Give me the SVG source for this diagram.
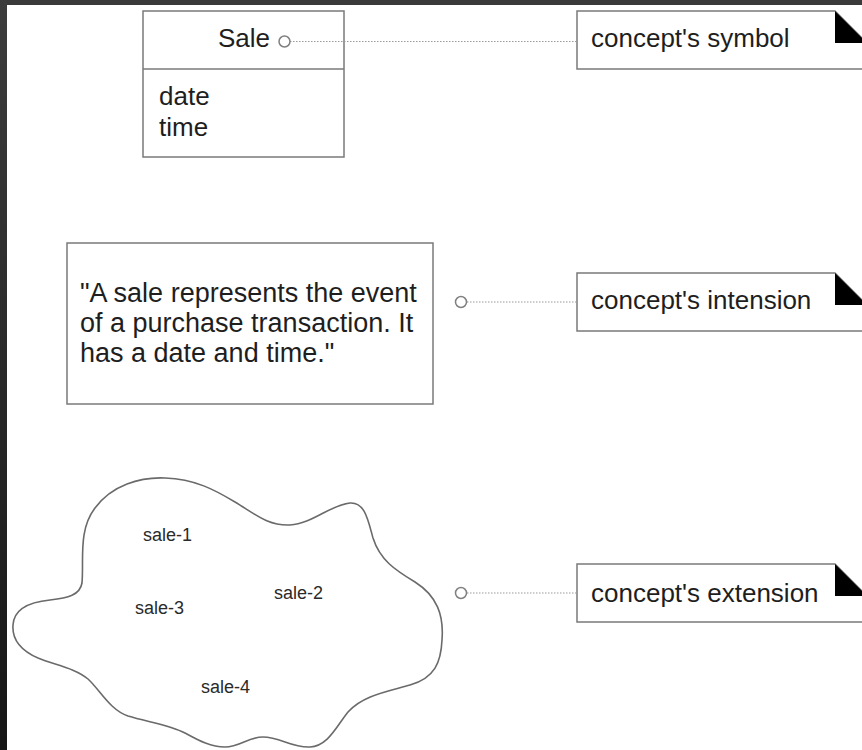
<svg xmlns="http://www.w3.org/2000/svg" width="862" height="750" viewBox="0 0 862 750">
  <defs>
    <linearGradient id="edge" x1="0" y1="0" x2="0" y2="1">
      <stop offset="0" stop-color="#3c3c3c"/>
      <stop offset="1" stop-color="#161616"/>
    </linearGradient>
  </defs>
  <style>
    .box { fill: #ffffff; stroke: #7a7a7a; stroke-width: 1.5; }
    .txt { font-family: "Liberation Sans", Arial, sans-serif; font-size: 26px; fill: #1e1e1e; }
    .quote { font-size: 27px; }
    .small { font-family: "Liberation Sans", Arial, sans-serif; font-size: 18px; fill: #2a2a2a; }
    .dot { stroke: #9a9a9a; stroke-width: 1.2; stroke-dasharray: 1.5 1.5; fill: none; }
    .port { fill: #ffffff; stroke: #808080; stroke-width: 1.5; }
    .fold { fill: #000000; }
    .cloud { fill: #ffffff; stroke: #6a6a6a; stroke-width: 1.6; }
  </style>
  <rect x="0" y="0" width="862" height="750" fill="#ffffff"/>
  <rect x="0" y="0" width="862" height="5" fill="#3a3a3a"/>
  <rect x="0" y="0" width="7" height="750" fill="url(#edge)"/>

  <g id="sale-class">
    <rect class="box" x="143" y="11" width="201" height="146"/>
    <line x1="143" y1="69" x2="344" y2="69" stroke="#7a7a7a" stroke-width="1.5"/>
    <text class="txt" x="218" y="47">Sale</text>
    <text class="txt" x="159" y="105">date</text>
    <text class="txt" x="159" y="136">time</text>
  </g>

  <g id="intension-box">
    <rect class="box" x="67" y="243" width="366" height="161"/>
    <text class="txt quote" x="80" y="302">"A sale represents the event</text>
    <text class="txt quote" x="80" y="332">of a purchase transaction. It</text>
    <text class="txt quote" x="80" y="362">has a date and time."</text>
  </g>

  <g id="extension-cloud">
    <path class="cloud" d="M 82,583 C 84,560 78,530 95,508 C 112,485 140,477 165,478 C 195,479 215,490 235,502 C 255,514 268,526 290,525 C 312,524 330,505 350,503 C 365,502 368,520 373,538 C 380,560 395,570 415,582 C 437,596 444,615 442,640 C 441,662 435,678 410,685 C 385,692 362,696 348,712 C 336,727 328,746 310,747 C 292,748 280,737 263,737 C 248,737 240,747 225,747 C 210,747 198,740 185,733 C 170,725 148,722 128,716 C 110,710 100,690 88,679 C 75,668 55,665 38,658 C 20,650 12,638 13,625 C 14,608 30,602 50,600 C 68,598 80,595 82,583 Z"/>
    <text class="small" x="143" y="541">sale-1</text>
    <text class="small" x="274" y="599">sale-2</text>
    <text class="small" x="135" y="614">sale-3</text>
    <text class="small" x="201" y="693">sale-4</text>
  </g>

  <g id="note-symbol">
    <path class="box" d="M 577,11 H 835 L 867,43 V 69 H 577 Z"/>
    <path class="fold" d="M 835,11 L 835,43 L 867,43 Z"/>
    <text class="txt" x="591" y="47">concept's symbol</text>
  </g>

  <g id="note-intension">
    <path class="box" d="M 577,273 H 835 L 867,305 V 331 H 577 Z"/>
    <path class="fold" d="M 835,273 L 835,305 L 867,305 Z"/>
    <text class="txt" x="591" y="309">concept's intension</text>
  </g>

  <g id="note-extension">
    <path class="box" d="M 577,564 H 835 L 867,596 V 622 H 577 Z"/>
    <path class="fold" d="M 835,564 L 835,596 L 867,596 Z"/>
    <text class="txt" x="591" y="602">concept's extension</text>
  </g>

  <g id="connectors">
    <line class="dot" x1="290" y1="41.5" x2="577" y2="41.5"/>
    <circle class="port" cx="284.5" cy="41.5" r="5.5"/>
    <line class="dot" x1="467" y1="302" x2="577" y2="302"/>
    <circle class="port" cx="461" cy="302" r="5.5"/>
    <line class="dot" x1="467" y1="593" x2="577" y2="593"/>
    <circle class="port" cx="461" cy="593" r="5.5"/>
  </g>
</svg>
